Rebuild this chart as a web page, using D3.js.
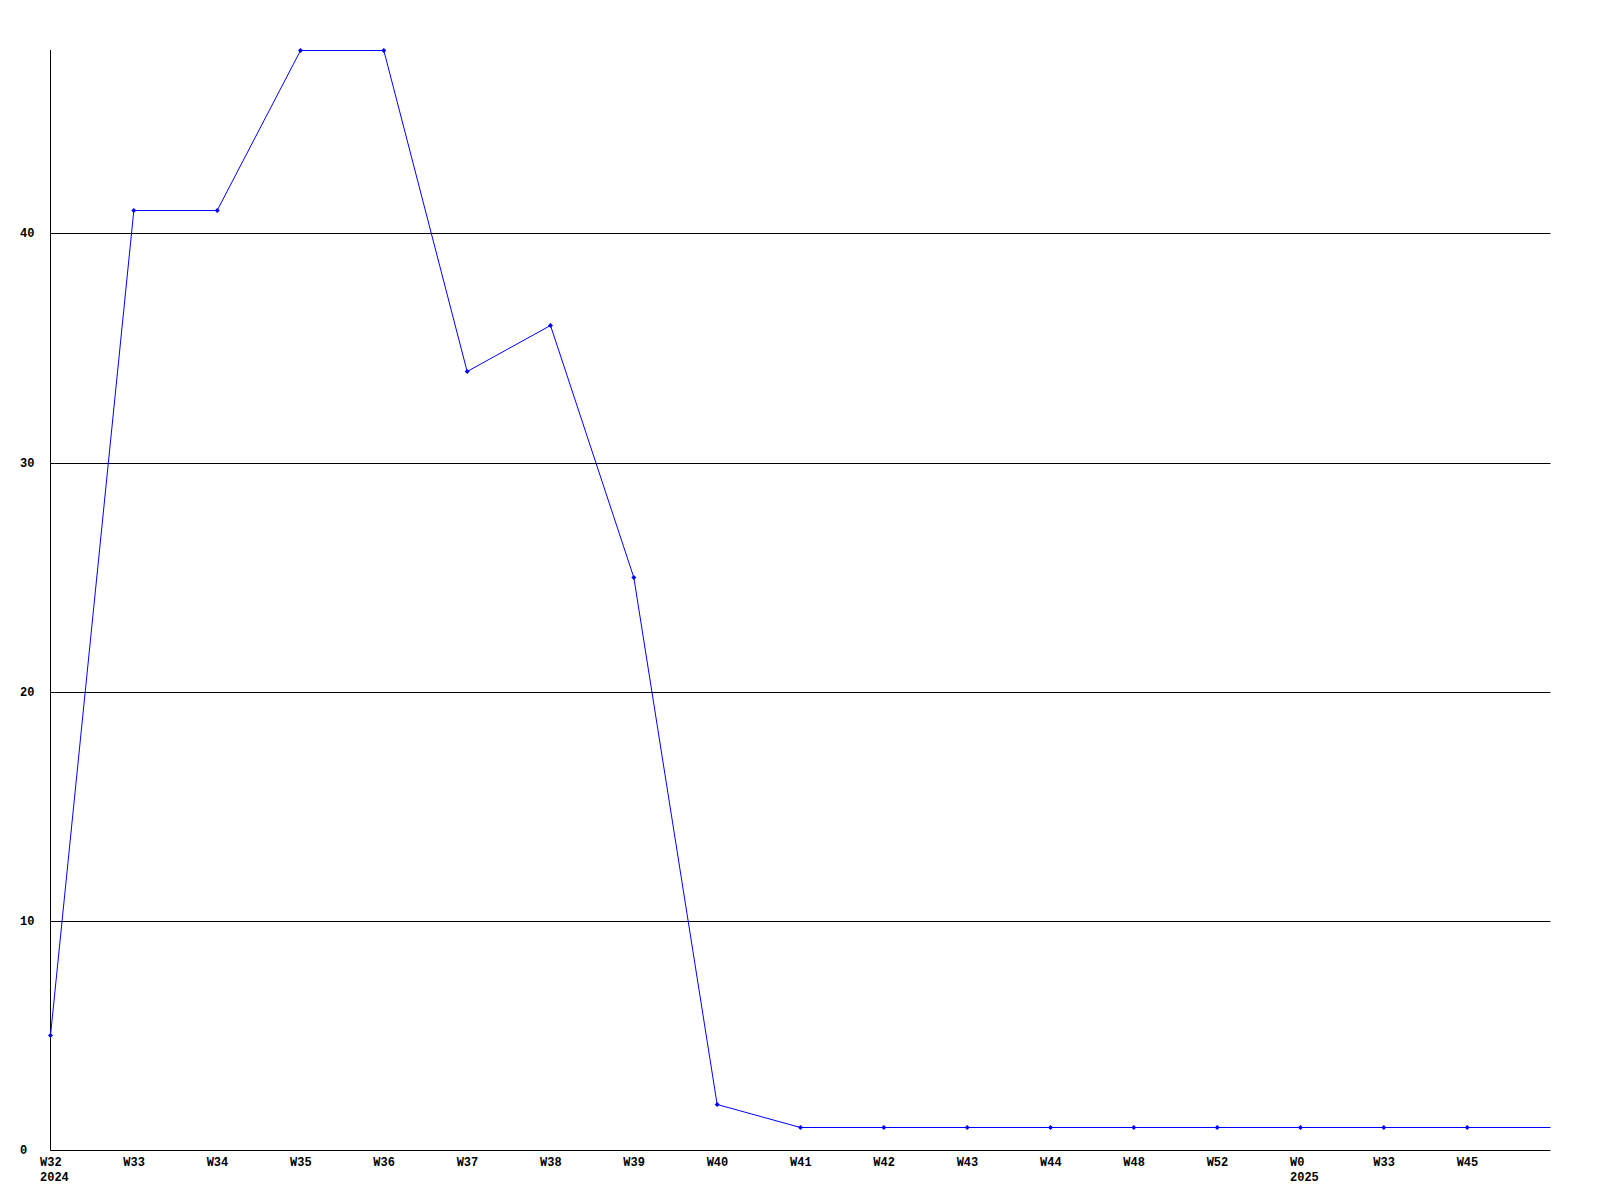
<!DOCTYPE html>
<html><head><meta charset="utf-8">
<script src="https://cdn.jsdelivr.net/npm/d3@7"></script>
<style>body{margin:0;background:#fff}svg{display:block}text{font-family:"Liberation Mono","DejaVu Sans Mono",monospace;font-weight:bold;font-size:12px;fill:#000}</style>
</head><body>
<script>
const weekLabels = ["W32","W33","W34","W35","W36","W37","W38","W39","W40","W41","W42","W43","W44","W48","W52","W0","W33","W45",""];
const yearLabels = ["2024","","","","","","","","","","","","","","","2025","","",""];
const values = [5,41,41,48,48,34,36,25,2,1,1,1,1,1,1,1,1,1,1];
const showMarker = [1,1,1,1,1,1,1,1,1,1,1,1,1,1,1,1,1,1,0];
const yTicks = [0,10,20,30,40];

(function(){
const W=1600,H=1200;
const svg=d3.select("body").append("svg").attr("width",W).attr("height",H);
const mLeft=50.5,mRight=1550.5,mTop=50,mBottom=1150;
const x=d3.scalePoint().domain(d3.range(values.length)).range([mLeft,mRight]);
const y=d3.scaleLinear().domain([0,48]).range([mBottom,mTop]);
const py=d=>Math.round(y(d))+0.5;

// gridlines
svg.append("g").selectAll("line").data(yTicks).join("line")
  .attr("x1",mLeft).attr("x2",mRight)
  .attr("y1",py).attr("y2",py)
  .attr("stroke","#000").attr("stroke-width",1);
// y axis line
svg.append("line").attr("x1",mLeft).attr("x2",mLeft).attr("y1",mTop).attr("y2",py(0)).attr("stroke","#000");
// y labels
svg.append("g").selectAll("text").data(yTicks).join("text")
  .attr("x",20).attr("y",d=>Math.round(y(d))+4).text(d=>d);
// x labels
const xl=svg.append("g");
weekLabels.forEach((w,i)=>{
  xl.append("text").attr("x",x(i)-10.5).attr("y",1166).text(w);
  if(yearLabels[i]) xl.append("text").attr("x",x(i)-10.5).attr("y",1181).text(yearLabels[i]);
});
// line
svg.append("path").datum(values)
  .attr("d",d3.line().x((d,i)=>x(i)).y(py))
  .attr("fill","none").attr("stroke","#0000ff").attr("stroke-width",1);
// markers
svg.append("g").selectAll("path").data(values.map((v,i)=>({v,i})).filter(d=>showMarker[d.i])).join("path")
  .attr("transform",d=>`translate(${x(d.i)},${py(d.v)})`)
  .attr("d","M0,-2.5L2.5,0L0,2.5L-2.5,0Z").attr("fill","#0000ff");
})();
</script>
</body></html>
